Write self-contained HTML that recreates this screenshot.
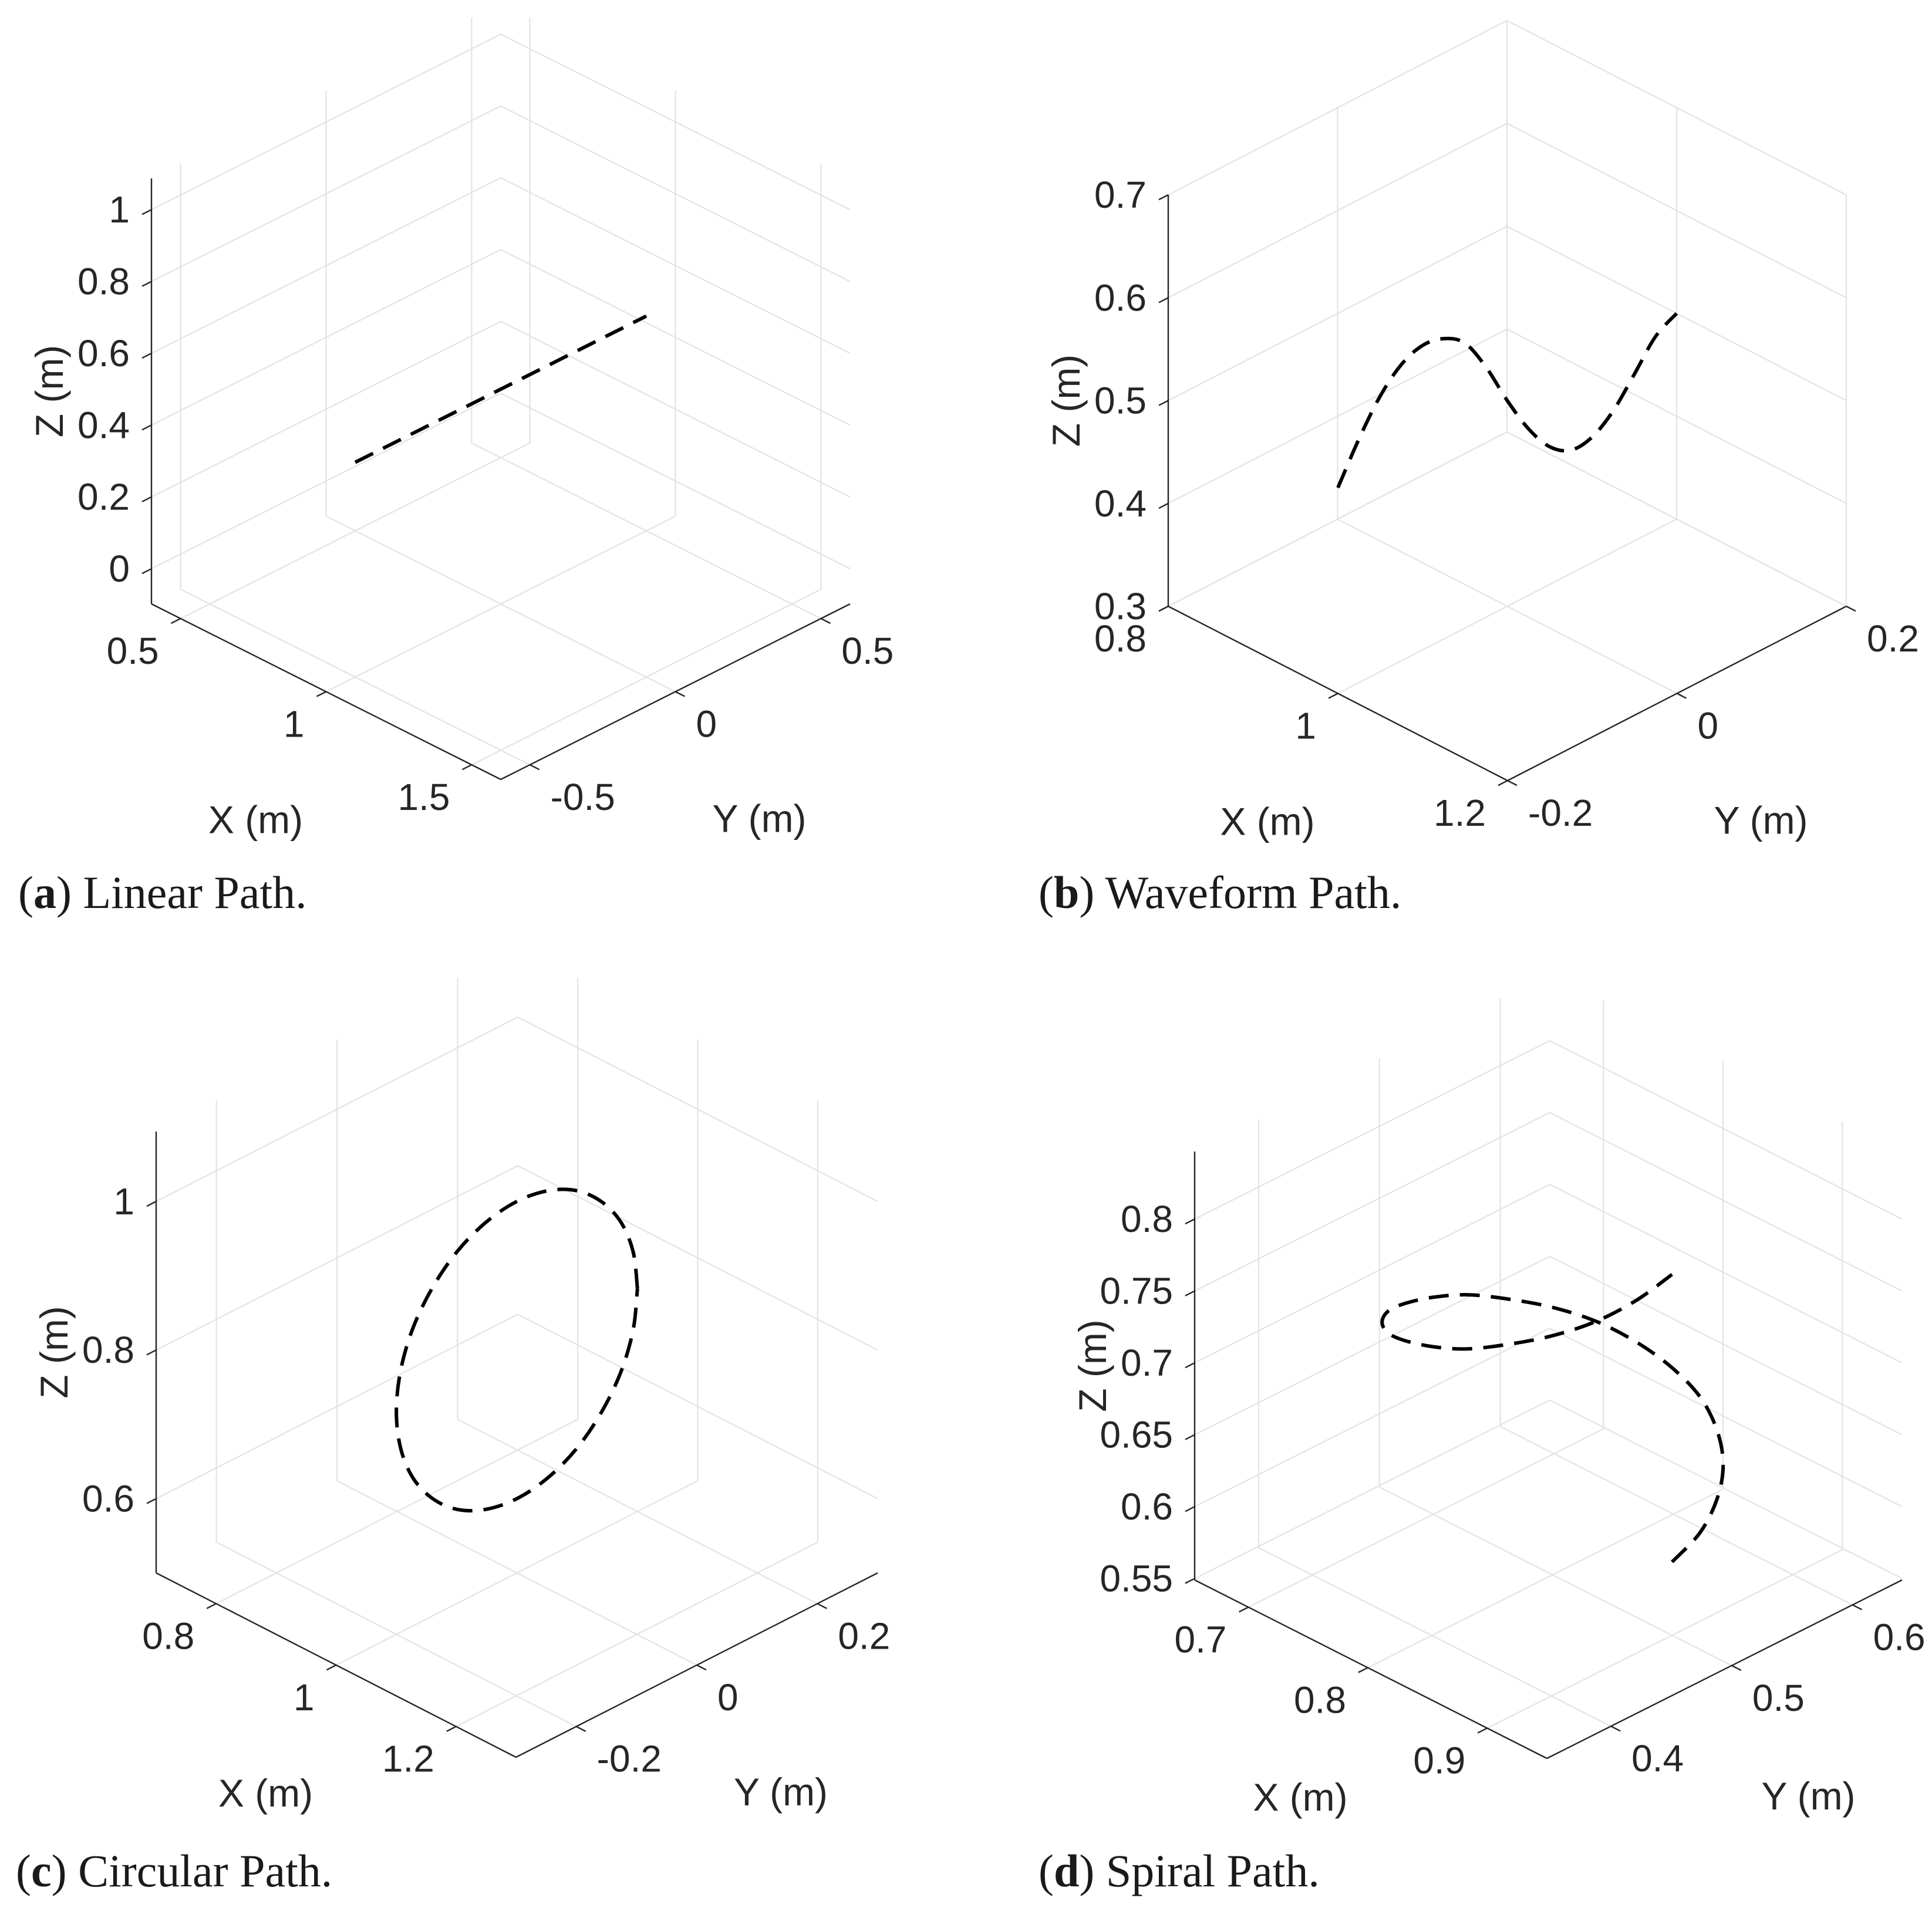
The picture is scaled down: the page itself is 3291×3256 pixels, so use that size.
<!DOCTYPE html>
<html><head><meta charset="utf-8"><style>
html,body{margin:0;padding:0;background:#fff;}
svg{display:block;}
.tick{font-family:"Liberation Sans",Arial,sans-serif;font-size:64px;fill:#262626;}
.alab{font-family:"Liberation Sans",Arial,sans-serif;font-size:66px;fill:#262626;}
.cap{font-family:"Liberation Serif","Times New Roman",serif;font-size:78px;fill:#1a1a1a;}
</style></head><body>
<svg id="fig" width="3291" height="3256" viewBox="0 0 3291 3256" xmlns="http://www.w3.org/2000/svg">
<g id="layer"></g>
<text class="cap" x="31" y="1547">(<tspan font-weight="bold">a</tspan>) Linear Path.</text>
<text class="cap" x="1769" y="1547">(<tspan font-weight="bold">b</tspan>) Waveform Path.</text>
<text class="cap" x="27" y="3214">(<tspan font-weight="bold">c</tspan>) Circular Path.</text>
<text class="cap" x="1769" y="3214">(<tspan font-weight="bold">d</tspan>) Spiral Path.</text>
</svg>
<script>
// ---- data ----
const linearX = [1.0, 1.0];
const linearY = [-0.5, 0.5];
const linearZ = [0.5, 0.5];

const waveX = [1,1,1,1,1,1,1,1,1,1,1,1,1,1,1,1,1];
const waveY = [-0.2,-0.175,-0.15,-0.125,-0.1,-0.075,-0.05,-0.025,0,0.025,0.05,0.075,0.1,0.125,0.15,0.175,0.2];
const waveZ = [0.500,0.537,0.568,0.588,0.596,0.592,0.577,0.543,0.500,0.462,0.434,0.420,0.422,0.437,0.462,0.488,0.500];

const circleX = [1,1,1,1,1,1,1,1,1,1,1,1,1,1,1,1,1,1,1,1,1,1,1,1,1];
const circleY = [0.2,0.193,0.173,0.141,0.1,0.052,0,-0.052,-0.1,-0.141,-0.173,-0.193,-0.2,-0.193,-0.173,-0.141,-0.1,-0.052,0,0.052,0.1,0.141,0.173,0.193,0.2];
const circleZ = [0.8,0.852,0.9,0.941,0.973,0.993,1.0,0.993,0.973,0.941,0.9,0.852,0.8,0.748,0.7,0.659,0.627,0.607,0.6,0.607,0.627,0.659,0.7,0.748,0.8];

const spiralX = [0.9,0.897,0.887,0.871,0.85,0.826,0.8,0.774,0.75,0.729,0.713,0.703,0.7,0.703,0.713,0.729,0.75,0.774,0.8,0.826,0.85,0.871,0.887,0.897,0.9];
const spiralY = [0.5,0.526,0.55,0.571,0.587,0.597,0.6,0.597,0.587,0.571,0.55,0.526,0.5,0.474,0.45,0.429,0.413,0.403,0.4,0.403,0.413,0.429,0.45,0.474,0.5];
const spiralZ = [0.6,0.608,0.617,0.625,0.633,0.642,0.65,0.658,0.667,0.675,0.683,0.692,0.7,0.708,0.717,0.725,0.733,0.742,0.75,0.758,0.767,0.775,0.783,0.792,0.8];

const ticksXa = [0.5,1,1.5], ticksYa = [-0.5,0,0.5], ticksZa = [0,0.2,0.4,0.6,0.8,1];
const ticksXb = [0.8,1,1.2], ticksYb = [-0.2,0,0.2], ticksZb = [0.3,0.4,0.5,0.6,0.7];
const ticksXc = [0.8,1,1.2], ticksYc = [-0.2,0,0.2], ticksZc = [0.6,0.8,1];
const ticksXd = [0.7,0.8,0.9], ticksYd = [0.4,0.5,0.6], ticksZd = [0.55,0.6,0.65,0.7,0.75,0.8];

// ---- layout (geometry) ----
const panels = [
 {id:'a', L:[258,1029], F:[853,1328], R:[1448,1029], H:725, xr:[0.4,1.6], yr:[-0.6,0.6], zr:[-0.098,1.087],
  tx:ticksXa, ty:ticksYa, tz:ticksZa, px:linearX, py:linearY, pz:linearZ, smooth:false},
 {id:'b', L:[1990,1033], F:[2568,1330], R:[3145,1033], H:701, xr:[0.8,1.2], yr:[-0.2,0.2], zr:[0.3,0.7],
  tx:ticksXb, ty:ticksYb, tz:ticksZb, px:waveX, py:waveY, pz:waveZ, smooth:true},
 {id:'c', L:[266,2680], F:[879,2994], R:[1495,2680], H:752, xr:[0.7,1.3], yr:[-0.3,0.3], zr:[0.5,1.094],
  tx:ticksXc, ty:ticksYc, tz:ticksZc, px:circleX, py:circleY, pz:circleZ, smooth:true},
 {id:'d', L:[2035,2692], F:[2635,2996], R:[3240,2692], H:730, xr:[0.655,0.95], yr:[0.347,0.641], zr:[0.549,0.847],
  tx:ticksXd, ty:ticksYd, tz:ticksZd, px:spiralX, py:spiralY, pz:spiralZ, smooth:true}
];

const NS='http://www.w3.org/2000/svg';
const layer=document.getElementById('layer');
function mk(tag, attrs, parent){
  const e=document.createElementNS(NS,tag);
  for(const k in attrs) e.setAttribute(k, attrs[k]);
  (parent||layer).appendChild(e); return e;
}
function fmt(v){ return (Math.round(v*1000)/1000).toString(); }

panels.forEach(p=>{
  const g=mk('g',{});
  
  
  const dX=[p.F[0]-p.L[0], p.F[1]-p.L[1]];
  const dY=[p.R[0]-p.F[0], p.R[1]-p.F[1]];
  function P(x,y,z){
    const fx=(x-p.xr[0])/(p.xr[1]-p.xr[0]);
    const fy=(y-p.yr[0])/(p.yr[1]-p.yr[0]);
    const fz=(z-p.zr[0])/(p.zr[1]-p.zr[0]);
    return [p.L[0]+fx*dX[0]+fy*dY[0], p.L[1]+fx*dX[1]+fy*dY[1]-fz*p.H];
  }
  const [x0,x1]=p.xr,[y0,y1]=p.yr,[z0,z1]=p.zr;
  const grid='#e3e3e3', gw=2.2;
  function line(a,b,col,w,parent,name){
    const l=mk('line',{x1:a[0],y1:a[1],x2:b[0],y2:b[1],stroke:col,'stroke-width':w},parent);
    
    
    return l;
  }
  p.tx.forEach(t=>line(P(t,y0,z0),P(t,y1,z0),grid,gw,g,'grid-line-x'));
  p.ty.forEach(t=>line(P(x0,t,z0),P(x1,t,z0),grid,gw,g,'grid-line-y'));
  p.ty.forEach(t=>line(P(x0,t,z0),P(x0,t,z1),grid,gw,g,'grid-line-y-wall'));
  p.tx.forEach(t=>line(P(t,y1,z0),P(t,y1,z1),grid,gw,g,'grid-line-x-wall'));
  p.tz.forEach(t=>{
    line(P(x0,y0,t),P(x0,y1,t),grid,gw,g,'grid-line-z');
    line(P(x0,y1,t),P(x1,y1,t),grid,gw,g,'grid-line-z');
  });
  const ac='#262626', aw=2.4;
  line(P(x0,y0,z0),P(x0,y0,z1),ac,aw,g,'z-axis');
  line(P(x0,y0,z0),P(x1,y0,z0),ac,aw,g,'x-axis');
  line(P(x1,y0,z0),P(x1,y1,z0),ac,aw,g,'y-axis');
  const lenY=Math.hypot(dY[0],dY[1]), lenX=Math.hypot(dX[0],dX[1]);
  const uY=[dY[0]/lenY,dY[1]/lenY], uX=[dX[0]/lenX,dX[1]/lenX];
  const TL=18;
  function txt(s,x,y,anchor,name,cls){
    const t=mk('text',{x:x,y:y,'text-anchor':anchor,'dominant-baseline':'central','class':cls||'tick'},g);
    t.textContent=s;
    
    
    return t;
  }
  p.tz.forEach(t=>{
    const a=P(x0,y0,t);
    line(a,[a[0]-uY[0]*TL,a[1]-uY[1]*TL],ac,aw,g,'z-tick');
    txt(fmt(t),a[0]-37,a[1],'end','z-tick-label');
  });
  p.tx.forEach(t=>{
    const a=P(t,y0,z0);
    line(a,[a[0]-uY[0]*TL,a[1]-uY[1]*TL],ac,aw,g,'x-tick');
    txt(fmt(t),a[0]-37,a[1]+55,'end','x-tick-label');
  });
  p.ty.forEach(t=>{
    const a=P(x1,t,z0);
    line(a,[a[0]+uX[0]*TL,a[1]+uX[1]*TL],ac,aw,g,'y-tick');
    txt(fmt(t),a[0]+35,a[1]+55,'start','y-tick-label');
  });
  const zb=P(x0,y0,z0), zt=P(x0,y0,z1);
  const zl=txt('Z (m)',zb[0]-174,(zb[1]+zt[1])/2,'middle','z-axis-title','alab');
  zl.setAttribute('transform','rotate(-90 '+(zb[0]-174)+' '+((zb[1]+zt[1])/2)+')');
  const xm=P((x0+x1)/2,y0,z0);
  txt('X (m)',xm[0]-120,xm[1]+218,'middle','x-axis-title','alab');
  const ym=P(x1,(y0+y1)/2,z0);
  txt('Y (m)',ym[0]+143,ym[1]+216,'middle','y-axis-title','alab');
  const pts=p.px.map((x,i)=>P(x,p.py[i],p.pz[i]));
  let d='M'+pts[0][0]+','+pts[0][1];
  if(!p.smooth){
    for(let i=1;i<pts.length;i++) d+=' L'+pts[i][0]+','+pts[i][1];
  } else {
    for(let i=0;i<pts.length-1;i++){
      const p0=pts[Math.max(0,i-1)],p1=pts[i],p2=pts[i+1],p3=pts[Math.min(pts.length-1,i+2)];
      const c1=[p1[0]+(p2[0]-p0[0])/6,p1[1]+(p2[1]-p0[1])/6];
      const c2=[p2[0]-(p3[0]-p1[0])/6,p2[1]-(p3[1]-p1[1])/6];
      d+=' C'+c1[0]+','+c1[1]+' '+c2[0]+','+c2[1]+' '+p2[0]+','+p2[1];
    }
  }
  const path=mk('path',{d:d,fill:'none',stroke:'#000','stroke-width':6,'stroke-dasharray':'34 19'},g);
  
  
});
</script>
</body></html>
